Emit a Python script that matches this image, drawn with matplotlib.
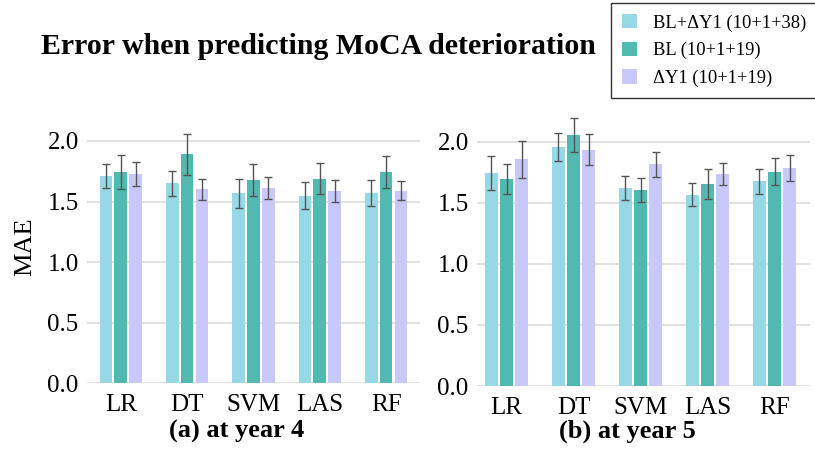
import matplotlib
matplotlib.use("Agg")
import matplotlib.pyplot as plt
import numpy as np

plt.rcParams['font.family'] = ['Liberation Serif', 'DejaVu Serif']

models = ["LR", "DT", "SVM", "LAS", "RF"]
series = ["BL+ΔY1 (10+1+38)", "BL (10+1+19)", "ΔY1 (10+1+19)"]
colors = ["#96d8e5", "#52b9b1", "#c9c8fa"]

# panel (a) at year 4
y4_bldy = [1.71, 1.65, 1.57, 1.55, 1.57]
y4_bl = [1.745, 1.89, 1.68, 1.69, 1.745]
y4_dy = [1.725, 1.60, 1.61, 1.59, 1.59]
y4_bldy_err = [0.10, 0.10, 0.12, 0.115, 0.11]
y4_bl_err = [0.14, 0.17, 0.13, 0.13, 0.13]
y4_dy_err = [0.10, 0.09, 0.09, 0.09, 0.08]

# panel (b) at year 5
y5_bldy = [1.745, 1.955, 1.62, 1.565, 1.675]
y5_bl = [1.695, 2.055, 1.605, 1.655, 1.755]
y5_dy = [1.855, 1.935, 1.815, 1.735, 1.785]
y5_bldy_err = [0.14, 0.115, 0.10, 0.095, 0.10]
y5_bl_err = [0.12, 0.14, 0.10, 0.12, 0.11]
y5_dy_err = [0.15, 0.125, 0.105, 0.09, 0.11]

yticks = [0.0, 0.5, 1.0, 1.5, 2.0]
ytick_labels = ["0.0", "0.5", "1.0", "1.5", "2.0"]

fig = plt.figure(figsize=(8.15, 4.5), dpi=100)
ax_a = fig.add_axes([0.1067, 0.1482, 0.4086, 0.6058])
ax_b = fig.add_axes([0.5853, 0.1422, 0.4086, 0.6107])

panels = [
    (ax_a, [y4_bldy, y4_bl, y4_dy], [y4_bldy_err, y4_bl_err, y4_dy_err], (-0.51, 4.51)),
    (ax_b, [y5_bldy, y5_bl, y5_dy], [y5_bldy_err, y5_bl_err, y5_dy_err], (-0.44, 4.53)),
]

x = np.arange(len(models))
offsets = [-0.225, 0.0, 0.225]
handles = None
for ax, vals, errs, xl in panels:
    hs = []
    for i in range(3):
        b = ax.bar(x + offsets[i], vals[i], width=0.19, color=colors[i], zorder=2,
                   label=series[i])
        ax.errorbar(x + offsets[i], vals[i], yerr=errs[i], fmt='none', ecolor='#555555',
                    elinewidth=1.0, capsize=3, capthick=1.0, zorder=3)
        hs.append(b)
    handles = hs
    ax.set_xlim(*xl)
    ax.set_ylim(0, 2.25)
    ax.set_yticks(yticks)
    ax.set_yticklabels(ytick_labels)
    ax.set_xticks(x)
    ax.set_xticklabels(models)
    ax.tick_params(axis='both', length=0, labelsize=18, pad=6)
    ax.tick_params(axis='x', pad=8)
    for s in ax.spines.values():
        s.set_visible(False)
    ax.yaxis.grid(True, color='#dcdcdc', linewidth=1.2, zorder=0)
    ax.set_axisbelow(True)

ax_a.set_ylabel("MAE", fontsize=19, labelpad=8)

fig.text(236.5 / 815, 1 - 431 / 450, "(a) at year 4", fontsize=19, fontweight='bold',
         ha='center', va='center')
fig.text(627 / 815, 1 - 431 / 450, "(b) at year 5", fontsize=19, fontweight='bold',
         ha='center', va='center')

fig.text(318 / 815, 1 - 47 / 450, "Error when predicting MoCA deterioration", fontsize=21.5,
         fontweight='bold', ha='center', va='center')

leg = fig.legend(handles, series, loc='upper left', bbox_to_anchor=(611 / 815, 1 - 3 / 450),
                 fontsize=13.3, frameon=True, fancybox=False, edgecolor='black',
                 handlelength=0.8, handleheight=0.8, handletextpad=0.9,
                 labelspacing=0.55, borderpad=0.6, borderaxespad=0)
leg.get_frame().set_linewidth(1.0)

fig.savefig("out.png", dpi=100)
